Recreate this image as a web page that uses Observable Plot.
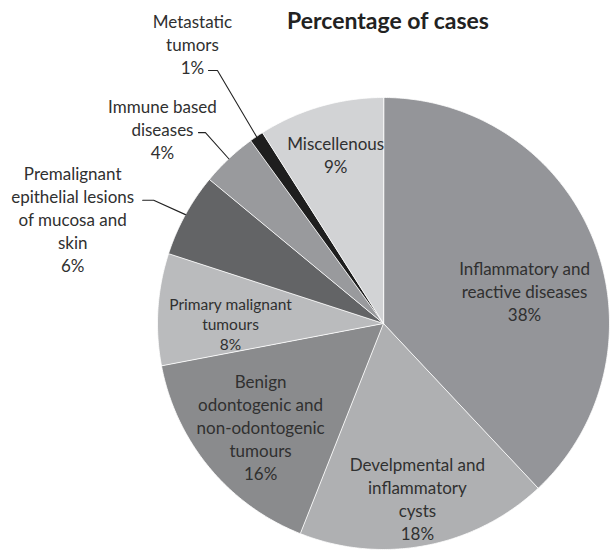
<!DOCTYPE html>
<html>
<head>
<meta charset="utf-8">
<script src="https://cdn.jsdelivr.net/npm/d3@7"></script>
<script src="https://cdn.jsdelivr.net/npm/@observablehq/plot@0.6"></script>
<style>
  html, body { margin: 0; padding: 0; background: #fff; }
  #chart { width: 611px; height: 551px; }
</style>
</head>
<body>
<div id="chart"></div>
<script>
// ---- data ----
const title = "Percentage of cases";
const categories = [
  "Inflammatory and reactive diseases",
  "Develpmental and inflammatory cysts",
  "Benign odontogenic and non-odontogenic tumours",
  "Primary malignant tumours",
  "Premalignant epithelial lesions of mucosa and skin",
  "Immune based diseases",
  "Metastatic tumors",
  "Miscellenous"
];
const percentages = [38, 18, 16, 8, 6, 4, 1, 9];
const labelTexts = [
  "Inflammatory and\nreactive diseases",
  "Develpmental and\ninflammatory\ncysts",
  "Benign\nodontogenic and\nnon-odontogenic\ntumours",
  "Primary malignant\ntumours",
  "Premalignant\nepithelial lesions\nof mucosa and\nskin",
  "Immune based\ndiseases",
  "Metastatic\ntumors",
  "Miscellenous"
];
const sliceColors = ["#949599", "#afb0b2", "#8a8b8d", "#babbbd", "#636466", "#999a9d", "#1e1e1e", "#d2d3d5"];

// ---- layout (label placement, in polar form: angle from 12 o'clock, radius as fraction of pie radius) ----
const R = 226; // pie radius in px
const labelAngle = [76.8, 169.0, 230.0, 270.0, 288.7, 311.4, 325.7, 344.2];
const labelRadius = [0.641, 0.786, 0.710, 0.677, 1.452, 1.304, 1.500, 0.777];
const labelSize = [17, 17, 17, 15.5, 17, 17, 17, 17];
// leader lines for outside labels: [start dx, start dy, elbow dx, elbow dy] in px relative to label centre
const leaders = {4: [70, -18, 81, -18], 5: [36, 4, 43, 4], 6: [16, 27, 25, 27]};

// ---- build geometry from the data ----
const total = d3.sum(percentages);
let acc = 0;
const slices = percentages.map((v, i) => {
  const a0 = acc / total * 2 * Math.PI;
  acc += v;
  const a1 = acc / total * 2 * Math.PI;
  return {cat: categories[i], value: v, a0, a1, mid: (a0 + a1) / 2};
});
const polyPts = [];
slices.forEach(s => {
  polyPts.push({cat: s.cat, x: 0, y: 0});
  const n = Math.max(2, Math.ceil((s.a1 - s.a0) / (Math.PI / 360)));
  for (let k = 0; k <= n; k++) {
    const a = s.a0 + (s.a1 - s.a0) * k / n;
    polyPts.push({cat: s.cat, x: Math.sin(a), y: Math.cos(a)});
  }
});
const polar = (deg, r) => ({x: r * Math.sin(deg * Math.PI / 180), y: r * Math.cos(deg * Math.PI / 180)});
const labels = slices.map((s, i) => {
  const p = polar(labelAngle[i], labelRadius[i]);
  return {cat: s.cat, i, x: p.x, y: p.y, text: labelTexts[i] + "\n" + s.value + "%", size: labelSize[i]};
});
const leaderPts = [];
Object.entries(leaders).forEach(([k, L]) => {
  const lab = labels[+k], s = slices[+k];
  leaderPts.push({cat: s.cat, x: lab.x + L[0] / R, y: lab.y - L[1] / R});
  leaderPts.push({cat: s.cat, x: lab.x + L[2] / R, y: lab.y - L[3] / R});
  leaderPts.push({cat: s.cat, x: Math.sin(s.mid), y: Math.cos(s.mid)});
});

const font = "Lato, 'Open Sans', sans-serif";
const textMark = (size, lh) => Plot.text(labels.filter(d => d.size === size), {
  x: "x", y: "y", text: "text", fontSize: size, lineHeight: lh,
  fill: "#303030", textAnchor: "middle", lineAnchor: "middle", fontFamily: font
});

const chart = Plot.plot({
  width: 611,
  height: 551,
  margin: 0,
  style: {fontFamily: font, background: "#fff", overflow: "visible"},
  x: {domain: [-1, 1], range: [157, 609], axis: null},
  y: {domain: [-1, 1], range: [549, 97], axis: null},
  color: {domain: categories, range: sliceColors},
  marks: [
    Plot.line(polyPts, {x: "x", y: "y", z: "cat", fill: "cat", stroke: "#ffffff", strokeWidth: 0.8, strokeLinejoin: "miter", curve: "linear-closed"}),
    Plot.line(leaderPts, {x: "x", y: "y", z: "cat", stroke: "#222", strokeWidth: 1.1, curve: "linear"}),
    textMark(17, 23 / 17),
    textMark(15.5, 20 / 15.5),
    Plot.text([title], {frameAnchor: "top", dx: 82, dy: 21, text: d => d, fontSize: 23, fontWeight: "bold", fill: "#222222", lineAnchor: "middle", fontFamily: font})
  ]
});
document.getElementById("chart").appendChild(chart);
</script>
</body>
</html>
